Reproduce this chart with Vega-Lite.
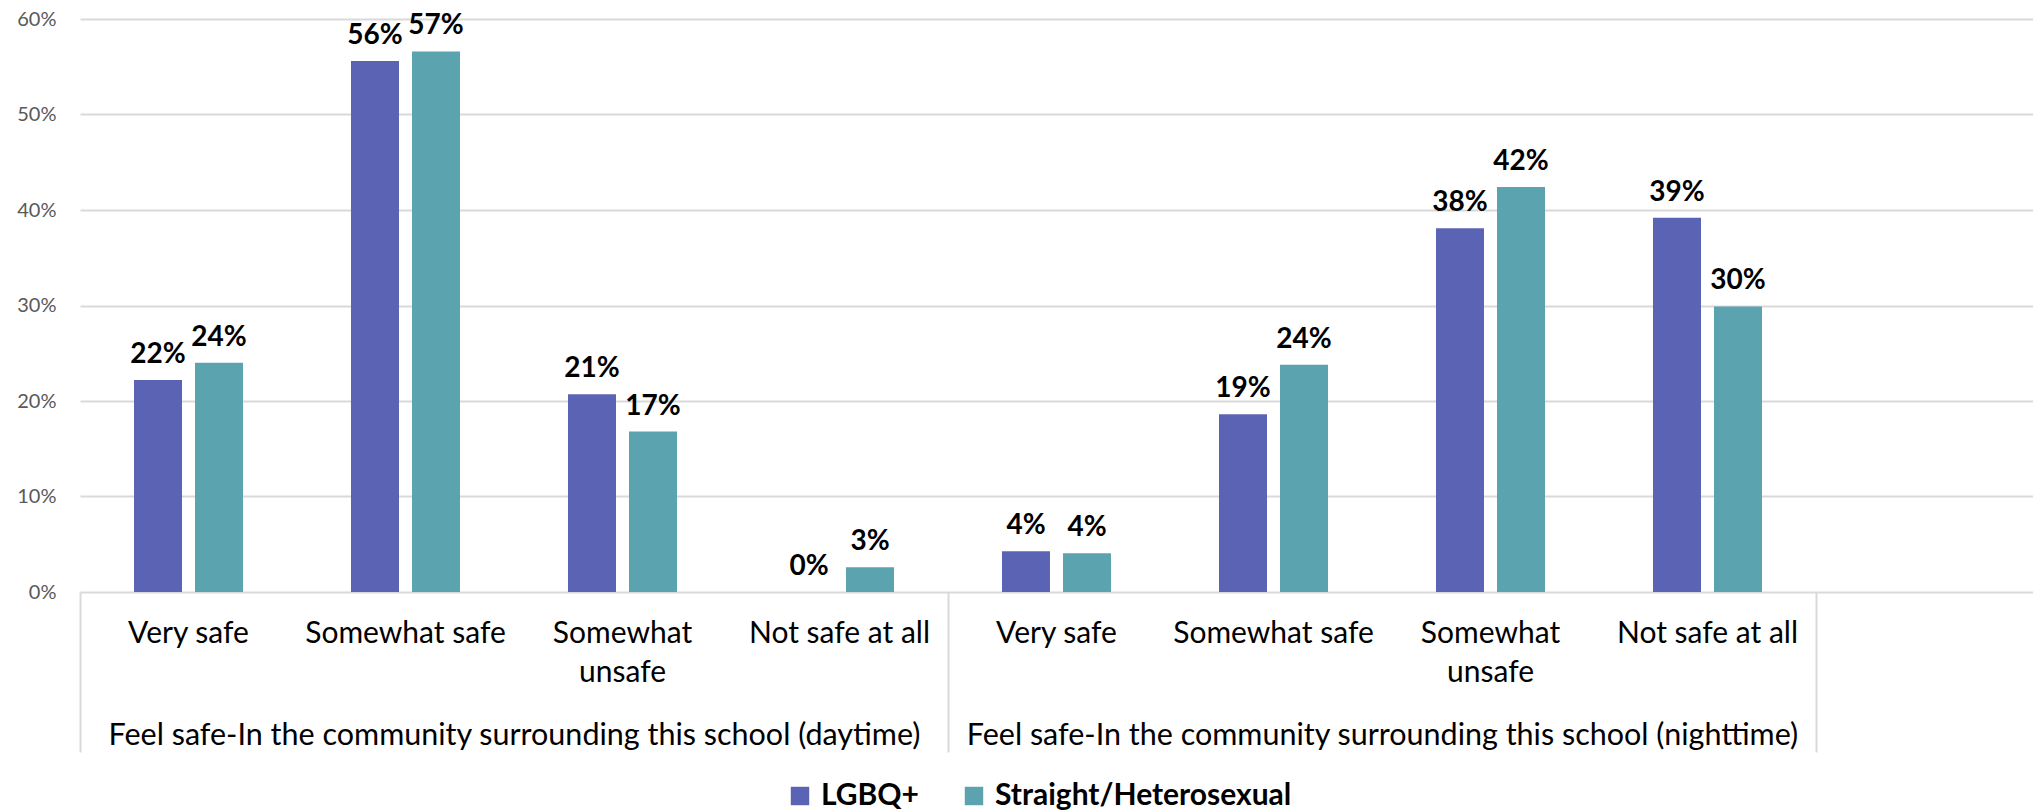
{
  "$schema": "https://vega.github.io/schema/vega-lite/v6.json",
  "width": 1953,
  "height": 573,
  "autosize": "none",
  "padding": {"left": 80, "top": 19, "right": 0, "bottom": 220},
  "config": {"view": {"stroke": null}, "font": "Lato", "axis": {"labelFont": "Lato"}},
  "datasets": {
    "bars": [
      {"key": "Very safe|day", "period": "daytime", "category": "Very safe", "group": "LGBQ+", "value": 0.222},
      {"key": "Very safe|day", "period": "daytime", "category": "Very safe", "group": "Straight/Heterosexual", "value": 0.240},
      {"key": "Somewhat safe|day", "period": "daytime", "category": "Somewhat safe", "group": "LGBQ+", "value": 0.556},
      {"key": "Somewhat safe|day", "period": "daytime", "category": "Somewhat safe", "group": "Straight/Heterosexual", "value": 0.566},
      {"key": "Somewhat unsafe|day", "period": "daytime", "category": "Somewhat unsafe", "group": "LGBQ+", "value": 0.207},
      {"key": "Somewhat unsafe|day", "period": "daytime", "category": "Somewhat unsafe", "group": "Straight/Heterosexual", "value": 0.168},
      {"key": "Not safe at all|day", "period": "daytime", "category": "Not safe at all", "group": "LGBQ+", "value": 0.0},
      {"key": "Not safe at all|day", "period": "daytime", "category": "Not safe at all", "group": "Straight/Heterosexual", "value": 0.026},
      {"key": "Very safe|night", "period": "nighttime", "category": "Very safe", "group": "LGBQ+", "value": 0.0427},
      {"key": "Very safe|night", "period": "nighttime", "category": "Very safe", "group": "Straight/Heterosexual", "value": 0.0406},
      {"key": "Somewhat safe|night", "period": "nighttime", "category": "Somewhat safe", "group": "LGBQ+", "value": 0.186},
      {"key": "Somewhat safe|night", "period": "nighttime", "category": "Somewhat safe", "group": "Straight/Heterosexual", "value": 0.238},
      {"key": "Somewhat unsafe|night", "period": "nighttime", "category": "Somewhat unsafe", "group": "LGBQ+", "value": 0.381},
      {"key": "Somewhat unsafe|night", "period": "nighttime", "category": "Somewhat unsafe", "group": "Straight/Heterosexual", "value": 0.424},
      {"key": "Not safe at all|night", "period": "nighttime", "category": "Not safe at all", "group": "LGBQ+", "value": 0.392},
      {"key": "Not safe at all|night", "period": "nighttime", "category": "Not safe at all", "group": "Straight/Heterosexual", "value": 0.299}
    ],
    "periods": [
      {"pos": 2, "label": "Feel safe-In the community surrounding this school (daytime)"},
      {"pos": 6, "label": "Feel safe-In the community surrounding this school (nighttime)"}
    ]
  },
  "layer": [
    {
      "data": {"name": "bars"},
      "encoding": {
        "x": {
          "field": "key",
          "type": "nominal",
          "sort": null,
          "scale": {
            "domain": ["Very safe|day", "Somewhat safe|day", "Somewhat unsafe|day", "Not safe at all|day", "Very safe|night", "Somewhat safe|night", "Somewhat unsafe|night", "Not safe at all|night", "blank"],
            "paddingInner": 0,
            "paddingOuter": 0
          },
          "axis": {
            "orient": "bottom",
            "title": null,
            "domain": false,
            "ticks": false,
            "labelAngle": 0,
            "labelFontSize": 30,
            "labelColor": "#000000",
            "labelBaseline": "top",
            "labelPadding": 26,
            "labelLineHeight": 39,
            "labelLimit": 0,
            "labelExpr": "datum.value == 'blank' ? '' : (indexof(datum.value, 'Somewhat unsafe') == 0 ? ['Somewhat', 'unsafe'] : split(datum.value, '|')[0])"
          }
        },
        "xOffset": {
          "field": "group",
          "type": "nominal",
          "scale": {"domain": ["LGBQ+", "Straight/Heterosexual"], "paddingInner": 0.213, "paddingOuter": 0.885}
        },
        "y": {
          "field": "value",
          "type": "quantitative",
          "scale": {"domain": [0, 0.6], "nice": false},
          "axis": {
            "title": null,
            "values": [0, 0.1, 0.2, 0.3, 0.4, 0.5, 0.6],
            "format": ".0%",
            "domain": false,
            "ticks": false,
            "labelFontSize": 20,
            "labelColor": "#595959",
            "labelPadding": 24,
            "gridColor": "#D9D9D9",
            "gridWidth": 2
          }
        }
      },
      "layer": [
        {
          "mark": {"type": "bar"},
          "encoding": {
            "color": {
              "field": "group",
              "type": "nominal",
              "scale": {"domain": ["LGBQ+", "Straight/Heterosexual"], "range": ["#5B64B4", "#5BA3AE"]},
              "legend": {
                "orient": "none",
                "legendX": 705,
                "legendY": 762,
                "direction": "horizontal",
                "title": null,
                "symbolType": "square",
                "symbolSize": 340,
                "symbolStrokeWidth": 0,
                "labelFont": "Lato",
                "labelFontSize": 30,
                "labelFontWeight": "bold",
                "labelColor": "#000000",
                "labelOffset": 6,
                "labelLimit": 0,
                "columnPadding": 40,
                "padding": 0
              }
            }
          }
        },
        {
          "mark": {"type": "text", "font": "Lato", "fontSize": 28, "fontWeight": "bold", "color": "#000000", "baseline": "alphabetic", "dy": -17},
          "encoding": {
            "text": {"field": "value", "type": "quantitative", "format": ".0%"}
          }
        }
      ]
    },
    {
      "data": {"name": "periods"},
      "mark": {"type": "rule", "opacity": 0},
      "encoding": {
        "x": {
          "field": "pos",
          "type": "quantitative",
          "scale": {"domain": [0, 9], "nice": false, "zero": false},
          "axis": {
            "orient": "bottom",
            "title": null,
            "domain": false,
            "grid": false,
            "values": [0, 2, 4, 6, 8],
            "tickSize": 160,
            "tickWidth": 2,
            "tickColor": "#D9D9D9",
            "tickOpacity": {"condition": {"test": "datum.value == 2 || datum.value == 6", "value": 0}, "value": 1},
            "labelFontSize": 30.5,
            "labelColor": "#000000",
            "labelBaseline": "top",
            "labelPadding": -32,
            "labelLimit": 0,
            "labelFlush": false,
            "labelOverlap": false,
            "labelExpr": "datum.value == 2 ? 'Feel safe-In the community surrounding this school (daytime)' : (datum.value == 6 ? 'Feel safe-In the community surrounding this school (nighttime)' : '')"
          }
        }
      }
    }
  ],
  "resolve": {"scale": {"x": "independent"}, "axis": {"x": "independent"}}
}
